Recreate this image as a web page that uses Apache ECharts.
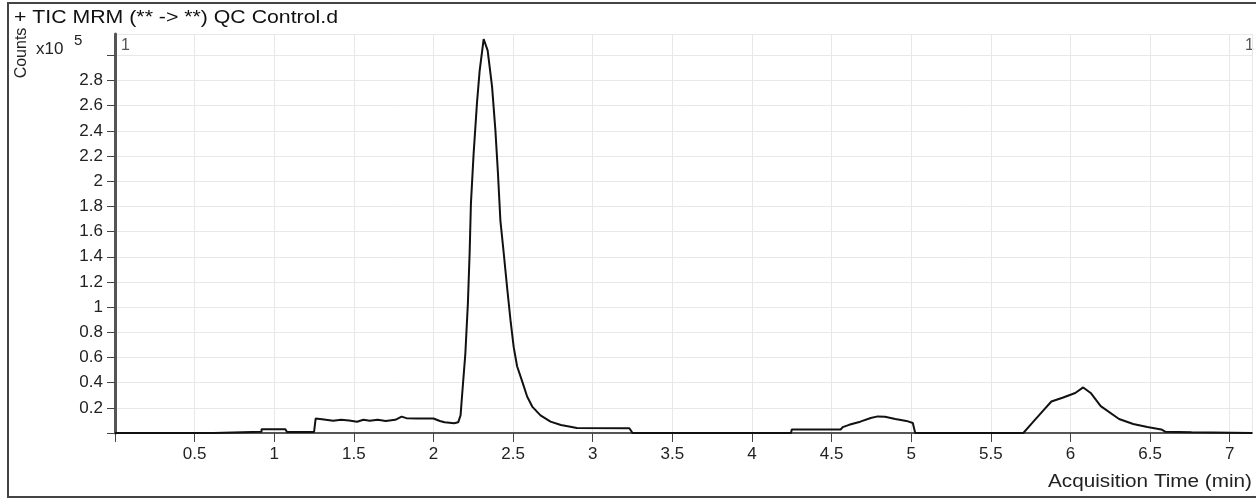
<!DOCTYPE html>
<html>
<head>
<meta charset="utf-8">
<script src="https://cdn.jsdelivr.net/npm/echarts@6/dist/echarts.min.js"></script>
<style>
  html, body { margin: 0; padding: 0; background: #fff; }
  #chart { width: 1256px; height: 500px; }
</style>
</head>
<body>
<div id="chart"></div>
<script>
// acquisition time (min) and counts (x10^5)
const times = [
  0, 0.62, 0.62, 0.92, 0.92, 1.07, 1.08, 1.25, 1.26, 1.30,
  1.37, 1.42, 1.47, 1.52, 1.56, 1.60, 1.65, 1.70, 1.76, 1.80,
  1.83, 1.90, 2.00, 2.04, 2.07, 2.13, 2.155, 2.17, 2.179, 2.20,
  2.216, 2.227, 2.235, 2.252, 2.273, 2.29, 2.315, 2.34, 2.368, 2.389,
  2.405, 2.42, 2.441, 2.462, 2.485, 2.504, 2.525, 2.557, 2.588, 2.62,
  2.672, 2.735, 2.80, 2.86, 2.90, 3.23, 3.25, 4.245, 4.25, 4.557,
  4.57, 4.61, 4.68, 4.746, 4.79, 4.835, 4.90, 4.97, 5.01, 5.025,
  5.704, 5.76, 5.83, 5.88, 5.95, 6.03, 6.08, 6.127, 6.19, 6.305,
  6.394, 6.483, 6.57, 6.595, 6.76, 6.77, 7.14
]
const counts = [
  0, 0, 0.01, 0.01, 0.03, 0.03, 0.008, 0.008, 0.115, 0.11,
  0.098, 0.105, 0.10, 0.09, 0.105, 0.098, 0.105, 0.095, 0.105, 0.13,
  0.118, 0.115, 0.115, 0.095, 0.085, 0.078, 0.085, 0.14, 0.29, 0.63,
  1.03, 1.43, 1.82, 2.22, 2.62, 2.88, 3.13, 3.04, 2.75, 2.40,
  2.06, 1.69, 1.43, 1.16, 0.88, 0.68, 0.53, 0.41, 0.29, 0.21,
  0.14, 0.09, 0.063, 0.05, 0.04, 0.038, 0, 0, 0.028, 0.028,
  0.047, 0.065, 0.09, 0.119, 0.132, 0.129, 0.111, 0.096, 0.08, 0,
  0, 0.08, 0.18, 0.25, 0.28, 0.318, 0.362, 0.318, 0.214, 0.111,
  0.072, 0.047, 0.028, 0.01, 0.005, 0, 0
]
const xTicks = [0.5, 1, 1.5, 2, 2.5, 3, 3.5, 4, 4.5, 5, 5.5, 6, 6.5, 7]
const yTicks = [0.2, 0.4, 0.6, 0.8, 1, 1.2, 1.4, 1.6, 1.8, 2, 2.2, 2.4, 2.6, 2.8]

const FONT = 'Liberation Sans, Arial, sans-serif'
const seriesData = times.map((t, i) => [t, counts[i]])

function tickLabel(list) {
  return (v) => {
    const hit = list.find((t) => Math.abs(t - v) < 1e-6)
    return hit === undefined ? '' : String(hit)
  }
}

const chart = echarts.init(document.getElementById('chart'))

chart.setOption({
  animation: false,
  backgroundColor: '#fff',
  grid: { left: 115, right: 4, top: 34, bottom: 67 },
  xAxis: {
    type: 'value',
    min: 0,
    max: 7.14,
    interval: 0.5,
    axisLine: { lineStyle: { color: '#555', width: 2 } },
    axisTick: { length: 9, lineStyle: { color: '#444', width: 1 } },
    axisLabel: {
      formatter: tickLabel(xTicks),
      showMaxLabel: false,
      color: '#222',
      fontSize: 17,
      fontFamily: FONT,
      margin: 13
    },
    splitLine: { show: true, lineStyle: { color: '#e8e8e8', width: 1 } }
  },
  yAxis: {
    type: 'value',
    min: 0,
    max: 3.17,
    interval: 0.2,
    axisLine: { show: true, lineStyle: { color: '#555', width: 3 } },
    axisTick: { show: true, length: 8, lineStyle: { color: '#444', width: 1 } },
    axisLabel: {
      formatter: tickLabel(yTicks),
      showMaxLabel: false,
      color: '#222',
      fontSize: 17,
      fontFamily: FONT,
      margin: 12
    },
    splitLine: { show: true, lineStyle: { color: '#e8e8e8', width: 1 } }
  },
  series: [{
    type: 'line',
    data: seriesData,
    showSymbol: false,
    smooth: false,
    lineStyle: { color: '#111', width: 2 },
    z: 5
  }],
  graphic: [
    {
      type: 'rect',
      shape: { x: 8, y: 3, width: 1262, height: 494 },
      style: { fill: 'none', stroke: '#444', lineWidth: 2 },
      silent: true
    },
    {
      type: 'text', x: 14, y: 18, scaleX: 1.12,
      style: { text: '+ TIC MRM (** -> **) QC Control.d', font: '19px ' + FONT, fill: '#111', verticalAlign: 'middle' }
    },
    {
      type: 'text', x: 22, y: 53, rotation: Math.PI / 2,
      style: { text: 'Counts', font: '16px ' + FONT, fill: '#222', align: 'center', verticalAlign: 'middle' }
    },
    {
      type: 'text', x: 36, y: 49,
      style: { text: 'x10', font: '17px ' + FONT, fill: '#222', verticalAlign: 'middle' }
    },
    {
      type: 'text', x: 74, y: 41,
      style: { text: '5', font: '15px ' + FONT, fill: '#222', verticalAlign: 'middle' }
    },
    {
      type: 'text', x: 121, y: 46,
      style: { text: '1', font: '16px ' + FONT, fill: '#555', verticalAlign: 'middle' }
    },
    {
      type: 'text', x: 1245, y: 46,
      style: { text: '1', font: '16px ' + FONT, fill: '#555', verticalAlign: 'middle' }
    },
    {
      type: 'text', x: 1252, y: 482, scaleX: 1.15,
      style: { text: 'Acquisition Time (min)', font: '18px ' + FONT, fill: '#222', align: 'right', verticalAlign: 'middle' }
    }
  ]
})
</script>
</body>
</html>
